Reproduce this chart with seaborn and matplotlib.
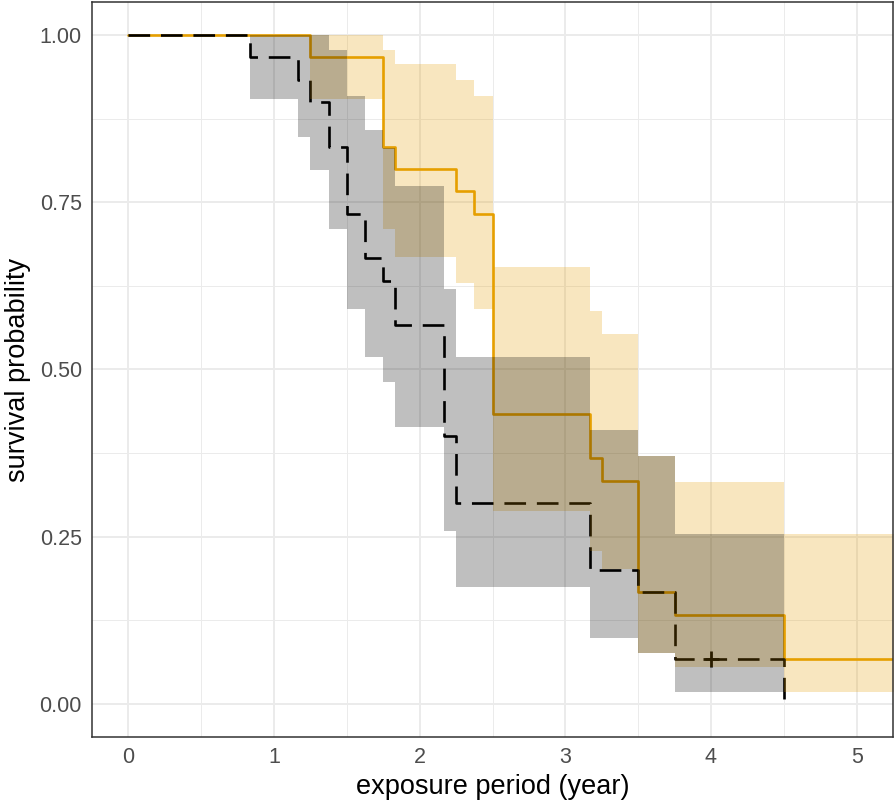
import numpy as np
import pandas as pd
import matplotlib
matplotlib.use("Agg")
import matplotlib.pyplot as plt
import seaborn as sns

# Kaplan-Meier steps (time in years)
orange_time = [0, 1.25, 1.75, 1.833, 2.25, 2.375, 2.5, 3.167, 3.25, 3.5, 3.75, 4.5, 5.6]
orange_surv = [1.0, 0.967, 0.833, 0.800, 0.767, 0.733, 0.433, 0.367, 0.333, 0.167, 0.133, 0.067, 0.067]
orange_upper = [1.0, 1.0, 0.978, 0.957, 0.934, 0.910, 0.653, 0.587, 0.553, 0.371, 0.332, 0.254, 0.254]
orange_lower = [1.0, 0.905, 0.710, 0.669, 0.629, 0.591, 0.288, 0.229, 0.201, 0.075, 0.054, 0.017, 0.017]

black_time = [0, 0.833, 1.167, 1.25, 1.375, 1.5, 1.625, 1.75, 1.833, 2.167, 2.25, 3.167, 3.5, 3.75, 4.5]
black_surv = [1.0, 0.967, 0.933, 0.900, 0.833, 0.733, 0.667, 0.633, 0.567, 0.400, 0.300, 0.200, 0.167, 0.067, 0.0]
black_upper = [1.0, 1.0, 1.0, 1.0, 0.978, 0.910, 0.859, 0.832, 0.775, 0.620, 0.518, 0.409, 0.371, 0.254, 0.254]
black_lower = [1.0, 0.905, 0.848, 0.799, 0.710, 0.591, 0.518, 0.482, 0.414, 0.258, 0.174, 0.098, 0.075, 0.017, 0.017]

censor_time = [4.0]
censor_surv = [0.067]

x_ticks = [0, 1, 2, 3, 4, 5]
y_ticks = [0.0, 0.25, 0.5, 0.75, 1.0]
y_tick_labels = ["0.00", "0.25", "0.50", "0.75", "1.00"]

orange = "#E69F00"

df_o = pd.DataFrame({"time": orange_time, "surv": orange_surv})
df_b = pd.DataFrame({"time": black_time, "surv": black_surv})

sns.set_style("white")
plt.rcParams["font.family"] = ["Liberation Sans", "DejaVu Sans"]

fig = plt.figure(figsize=(8.96, 8.05), dpi=100)
ax = fig.add_axes([0.1027, 0.0845, 0.894, 0.913])

# grid (ggplot theme_bw style)
ax.set_axisbelow(True)
ax.set_xticks(np.arange(0.5, 5.5, 1.0), minor=True)
ax.set_yticks(np.arange(0.125, 1.0, 0.25), minor=True)
ax.grid(True, which="major", color="#EBEBEB", linewidth=1.4)
ax.grid(True, which="minor", color="#EBEBEB", linewidth=0.7)

# survival curves
sns.lineplot(data=df_o, x="time", y="surv", ax=ax, color=orange, linewidth=1.9,
             drawstyle="steps-post", estimator=None, sort=False, zorder=3)
sns.lineplot(data=df_b, x="time", y="surv", ax=ax, color="black", linewidth=1.9,
             drawstyle="steps-post", estimator=None, sort=False, zorder=3,
             linestyle=(0, (8.2, 4.1)))
ax.plot(censor_time, censor_surv, marker="+", color="black", markersize=12,
        markeredgewidth=2, linestyle="none", zorder=3)

# confidence bands drawn over the lines
ax.fill_between(orange_time, orange_lower, orange_upper, step="post",
                color=orange, alpha=0.25, linewidth=0, zorder=4)
ax.fill_between(black_time, black_lower, black_upper, step="post",
                color="black", alpha=0.25, linewidth=0, zorder=4)

ax.set_xlim(-0.25, 5.25)
ax.set_ylim(-0.05, 1.05)
ax.set_xticks(x_ticks)
ax.set_xticklabels([str(t) for t in x_ticks])
ax.set_yticks(y_ticks)
ax.set_yticklabels(y_tick_labels)

ax.tick_params(which="major", length=4.3, width=1.1, color="#333333",
               labelsize=15.5, labelcolor="#4D4D4D", pad=3)
ax.tick_params(which="minor", length=0)

for s in ax.spines.values():
    s.set_color("#333333")
    s.set_linewidth(1.1)
    s.set_zorder(5)

ax.set_xlabel("exposure period (year)", fontsize=19.5, color="black", labelpad=4)
ax.set_ylabel("survival probability", fontsize=19.5, color="black", labelpad=6)

fig.savefig("out.png", dpi=100)
